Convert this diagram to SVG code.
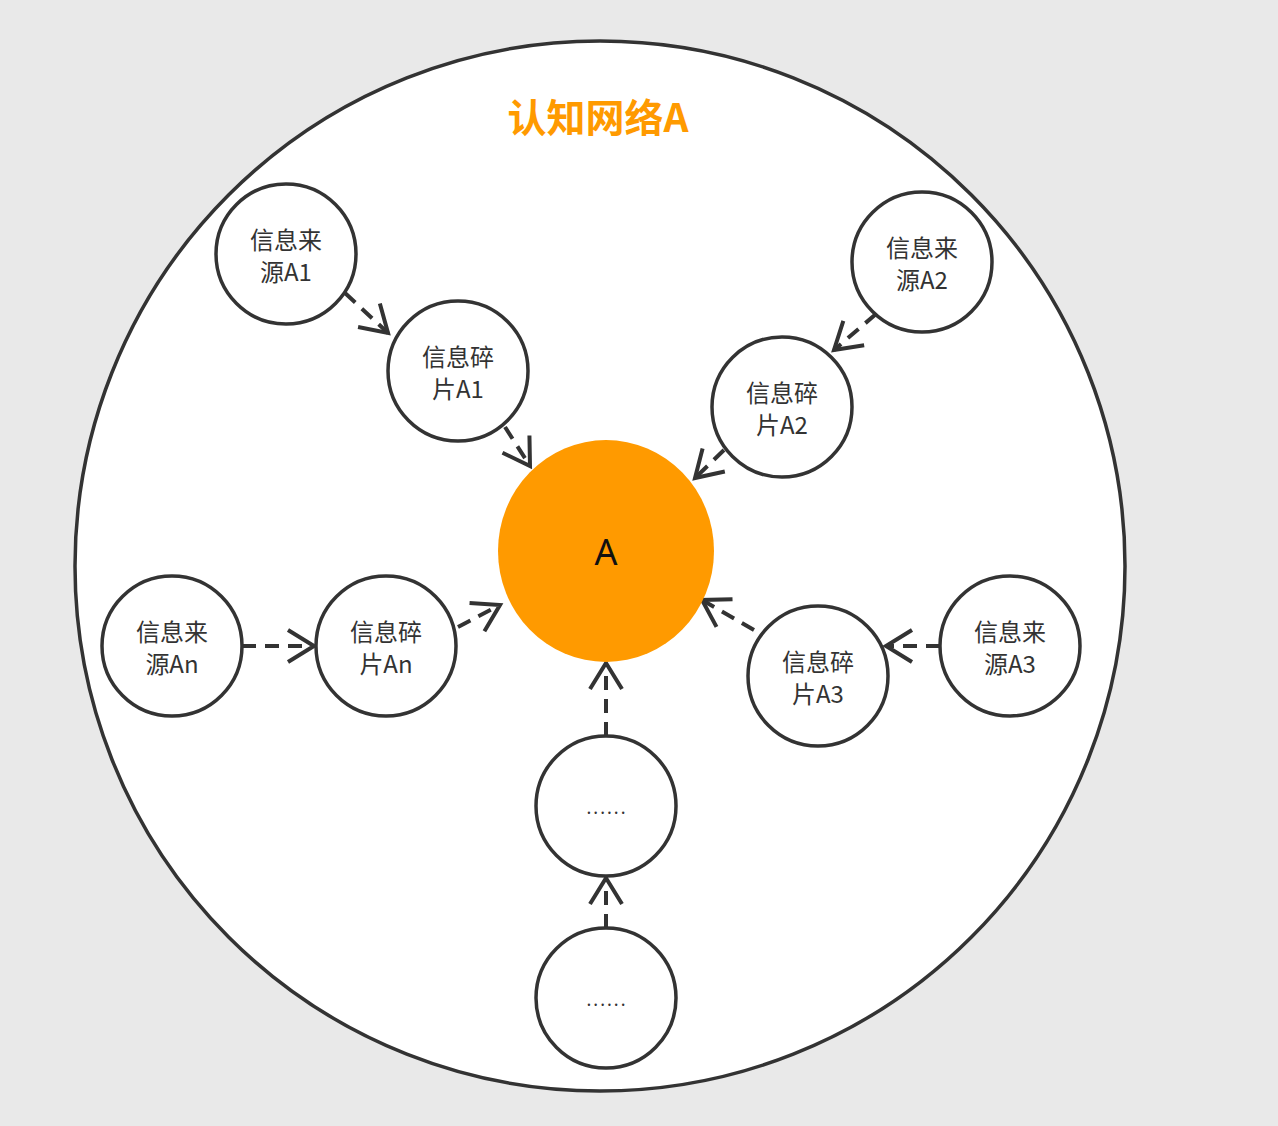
<svg xmlns="http://www.w3.org/2000/svg" width="1278" height="1126" viewBox="0 0 1278 1126">
<style>
.n{fill:#fff;stroke:#333;stroke-width:3.5}
.t{font-family:"Noto Sans CJK SC","Noto Sans",sans-serif;font-size:24px;fill:#333;text-anchor:middle;dominant-baseline:central}
.d{font-family:"Noto Sans",sans-serif;font-size:18px;fill:#333;text-anchor:middle;letter-spacing:2px}
.c{fill:none;stroke:#333;stroke-width:4;stroke-dasharray:14 9;marker-end:url(#ah)}
</style>
<defs>
<marker id="ah" markerUnits="userSpaceOnUse" markerWidth="40" markerHeight="40" viewBox="-30 -20 34 40" refX="0" refY="0" orient="auto" overflow="visible">
<path d="M-26,-16 L0,0 L-26,16" fill="none" stroke="#333" stroke-width="4" stroke-linejoin="miter"/>
</marker>
</defs>
<rect width="1278" height="1126" fill="#e9e9e9"/>
<g id="outer">
<circle cx="600" cy="566" r="525" fill="#fff" stroke="#333" stroke-width="3.5"/>
<text x="598" y="115" font-family="'Noto Sans CJK SC','Noto Sans',sans-serif" font-size="39" font-weight="bold" fill="#ff9a00" text-anchor="middle" dominant-baseline="central">认知网络A</text>
</g>
<g id="connectors">
<line class="c" x1="345" y1="293" x2="388" y2="333"/>
<line class="c" x1="505" y1="427" x2="530" y2="466"/>
<line class="c" x1="876" y1="314" x2="834" y2="350"/>
<line class="c" x1="724" y1="450" x2="695" y2="478"/>
<line class="c" x1="242" y1="646" x2="314" y2="646"/>
<line class="c" x1="458" y1="627" x2="500" y2="605"/>
<line class="c" x1="940" y1="646" x2="886" y2="646"/>
<line class="c" x1="754" y1="630" x2="702" y2="600"/>
<line class="c" x1="606" y1="736" x2="606" y2="663"/>
<line class="c" x1="606" y1="928" x2="606" y2="878"/>
</g>
<g id="nodeA">
<ellipse cx="606" cy="551" rx="108" ry="111" fill="#ff9a00"/>
<text x="606" y="551" font-family="'Noto Sans','Noto Sans CJK SC',sans-serif" font-size="36" fill="#111" text-anchor="middle" dominant-baseline="central">A</text>
</g>
<g id="srcA1"><circle class="n" cx="286" cy="254" r="70"/><text class="t" x="286" y="238">信息来</text><text class="t" x="286" y="270">源A1</text></g>
<g id="fragA1"><circle class="n" cx="458" cy="371" r="70"/><text class="t" x="458" y="355">信息碎</text><text class="t" x="458" y="387">片A1</text></g>
<g id="srcA2"><circle class="n" cx="922" cy="262" r="70"/><text class="t" x="922" y="246">信息来</text><text class="t" x="922" y="278">源A2</text></g>
<g id="fragA2"><circle class="n" cx="782" cy="407" r="70"/><text class="t" x="782" y="391">信息碎</text><text class="t" x="782" y="423">片A2</text></g>
<g id="srcAn"><circle class="n" cx="172" cy="646" r="70"/><text class="t" x="172" y="630">信息来</text><text class="t" x="172" y="662">源An</text></g>
<g id="fragAn"><circle class="n" cx="386" cy="646" r="70"/><text class="t" x="386" y="630">信息碎</text><text class="t" x="386" y="662">片An</text></g>
<g id="fragA3"><circle class="n" cx="818" cy="676" r="70"/><text class="t" x="818" y="660">信息碎</text><text class="t" x="818" y="692">片A3</text></g>
<g id="srcA3"><circle class="n" cx="1010" cy="646" r="70"/><text class="t" x="1010" y="630">信息来</text><text class="t" x="1010" y="662">源A3</text></g>
<g id="dots1"><circle class="n" cx="606" cy="806" r="70"/><text class="d" x="607" y="814">......</text></g>
<g id="dots2"><circle class="n" cx="606" cy="998" r="70"/><text class="d" x="607" y="1006">......</text></g>
</svg>
